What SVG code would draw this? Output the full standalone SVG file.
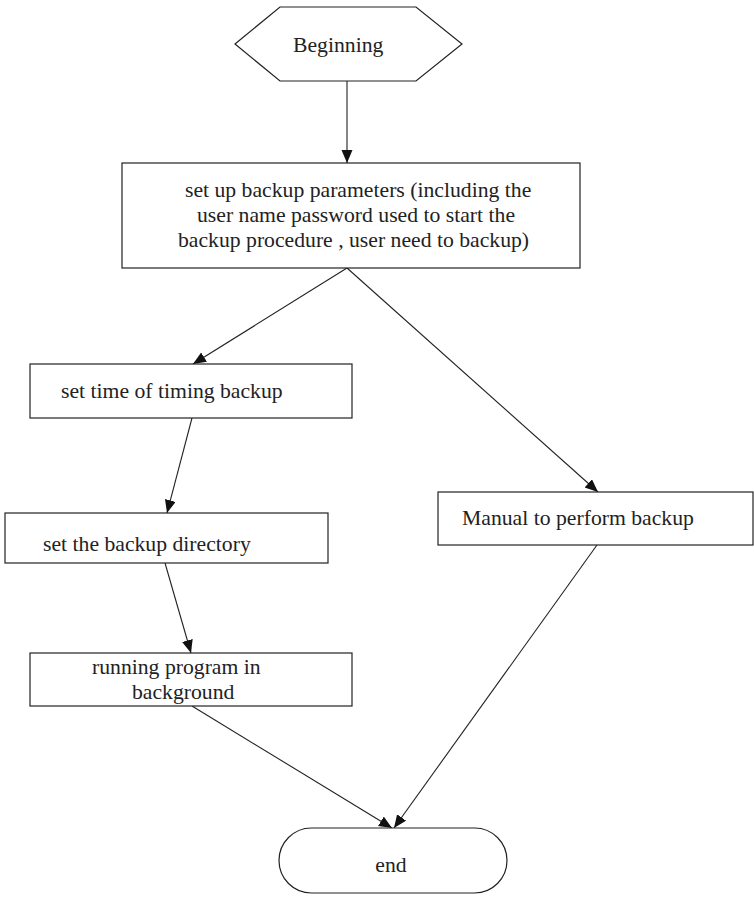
<svg xmlns="http://www.w3.org/2000/svg" width="754" height="903" viewBox="0 0 754 903">
<style>
.box{fill:#fff;stroke:#222;stroke-width:1.2}
.t{font-family:"Liberation Serif","Times New Roman",serif;font-size:21.7px;fill:#222}
.c{fill:none;stroke:#222;stroke-width:1.1}
</style>
<defs>
<marker id="ah" markerWidth="14" markerHeight="12" refX="13" refY="5.5" orient="auto" markerUnits="userSpaceOnUse">
<path d="M0,0 L13,5.5 L0,11 Z" fill="#111"/>
</marker>
</defs>
<rect width="754" height="903" fill="#fff"/>
<g id="connectors">
<line class="c" x1="347" y1="81" x2="347" y2="163" marker-end="url(#ah)"/>
<line class="c" x1="347" y1="268" x2="193" y2="364" marker-end="url(#ah)"/>
<line class="c" x1="347" y1="268" x2="598" y2="492" marker-end="url(#ah)"/>
<line class="c" x1="192" y1="418" x2="167" y2="513" marker-end="url(#ah)"/>
<line class="c" x1="165" y1="563" x2="191" y2="653" marker-end="url(#ah)"/>
<line class="c" x1="192" y1="706" x2="392" y2="828" marker-end="url(#ah)"/>
<line class="c" x1="597" y1="545" x2="394" y2="828" marker-end="url(#ah)"/>
</g>
<g id="beginning">
<polygon class="box" points="235,44 280,7 416,7 462,44 416,81 280,81"/>
<text class="t" x="293" y="52">Beginning</text>
</g>
<g id="setup">
<rect class="box" x="122" y="163" width="458" height="105"/>
<text class="t" x="185" y="197">set up backup parameters (including the</text>
<text class="t" x="197" y="222">user name password used to start the</text>
<text class="t" x="178" y="247">backup procedure , user need to backup)</text>
</g>
<g id="settime">
<rect class="box" x="30" y="364" width="322" height="54"/>
<text class="t" x="61" y="398">set time of timing backup</text>
</g>
<g id="setdir">
<rect class="box" x="5" y="513" width="323" height="50"/>
<text class="t" x="43" y="551">set the backup directory</text>
</g>
<g id="running">
<rect class="box" x="30" y="653" width="322" height="53"/>
<text class="t" x="92" y="674">running program in</text>
<text class="t" x="132" y="699">background</text>
</g>
<g id="manual">
<rect class="box" x="438" y="492" width="315" height="53"/>
<text class="t" x="462" y="525">Manual to perform backup</text>
</g>
<g id="end">
<rect class="box" x="279" y="828" width="228" height="65" rx="32.5" ry="32.5"/>
<text class="t" x="391" y="872" text-anchor="middle">end</text>
</g>
</svg>
